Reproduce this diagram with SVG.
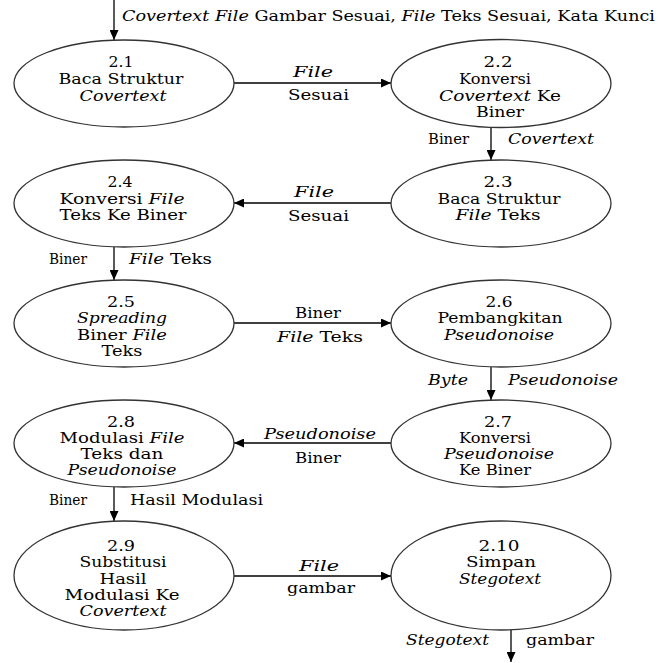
<svg xmlns="http://www.w3.org/2000/svg" width="662" height="663" viewBox="0 0 662 663">
<style>
ellipse{fill:#fff;stroke:#333;stroke-width:1.3}
line{stroke:#000;stroke-width:1.3}
</style>
<defs>
<marker id="ah" viewBox="0 0 10 10" refX="10" refY="5" markerWidth="10" markerHeight="9" markerUnits="userSpaceOnUse" orient="auto" preserveAspectRatio="none">
<path d="M0,0 L10,5 L0,10 z" fill="#000"/>
</marker>
</defs>
<g id="connectors" marker-end="url(#ah)">
<line x1="114" y1="0" x2="114" y2="40"/>
<line x1="234" y1="83" x2="391" y2="83"/>
<line x1="491" y1="127" x2="491" y2="160"/>
<line x1="391" y1="203" x2="234" y2="203"/>
<line x1="114" y1="247" x2="114" y2="280"/>
<line x1="234" y1="323" x2="391" y2="323"/>
<line x1="491" y1="367" x2="491" y2="400"/>
<line x1="391" y1="443" x2="234" y2="443"/>
<line x1="114" y1="487" x2="114" y2="521"/>
<line x1="234" y1="576" x2="391" y2="576"/>
<line x1="511" y1="630" x2="511" y2="662"/>
</g>
<g id="labels">
<text font-family="DejaVu Serif" font-size="14" x="122" y="21" textLength="533" lengthAdjust="spacingAndGlyphs"><tspan font-style="italic">Covertext File</tspan> Gambar Sesuai, <tspan font-style="italic">File</tspan> Teks Sesuai, Kata Kunci</text>
<text font-family="DejaVu Serif" font-size="14" font-style="italic" x="293" y="77" textLength="40" lengthAdjust="spacingAndGlyphs">File</text>
<text font-family="DejaVu Serif" font-size="14" x="288" y="100" textLength="61" lengthAdjust="spacingAndGlyphs">Sesuai</text>
<text font-family="DejaVu Serif" font-size="14" x="428" y="144" textLength="41" lengthAdjust="spacingAndGlyphs">Biner</text>
<text font-family="DejaVu Serif" font-size="14" font-style="italic" x="508" y="144" textLength="86" lengthAdjust="spacingAndGlyphs">Covertext</text>
<text font-family="DejaVu Serif" font-size="14" font-style="italic" x="294" y="197" textLength="40" lengthAdjust="spacingAndGlyphs">File</text>
<text font-family="DejaVu Serif" font-size="14" x="288" y="221" textLength="61" lengthAdjust="spacingAndGlyphs">Sesuai</text>
<text font-family="DejaVu Serif" font-size="14" x="49" y="264" textLength="38" lengthAdjust="spacingAndGlyphs">Biner</text>
<text font-family="DejaVu Serif" font-size="14" x="129" y="264" textLength="83" lengthAdjust="spacingAndGlyphs"><tspan font-style="italic">File</tspan> Teks</text>
<text font-family="DejaVu Serif" font-size="14" x="295" y="318" textLength="46" lengthAdjust="spacingAndGlyphs">Biner</text>
<text font-family="DejaVu Serif" font-size="14" x="277" y="342" textLength="86" lengthAdjust="spacingAndGlyphs"><tspan font-style="italic">File</tspan> Teks</text>
<text font-family="DejaVu Serif" font-size="14" font-style="italic" x="428" y="385" textLength="40" lengthAdjust="spacingAndGlyphs">Byte</text>
<text font-family="DejaVu Serif" font-size="14" font-style="italic" x="508" y="385" textLength="110" lengthAdjust="spacingAndGlyphs">Pseudonoise</text>
<text font-family="DejaVu Serif" font-size="14" font-style="italic" x="264" y="439" textLength="112" lengthAdjust="spacingAndGlyphs">Pseudonoise</text>
<text font-family="DejaVu Serif" font-size="14" x="295" y="463" textLength="46" lengthAdjust="spacingAndGlyphs">Biner</text>
<text font-family="DejaVu Serif" font-size="14" x="49" y="505" textLength="38" lengthAdjust="spacingAndGlyphs">Biner</text>
<text font-family="DejaVu Serif" font-size="14" x="130" y="505" textLength="133" lengthAdjust="spacingAndGlyphs">Hasil Modulasi</text>
<text font-family="DejaVu Serif" font-size="14" font-style="italic" x="299" y="571" textLength="40" lengthAdjust="spacingAndGlyphs">File</text>
<text font-family="DejaVu Serif" font-size="14" x="287" y="593" textLength="68" lengthAdjust="spacingAndGlyphs">gambar</text>
<text font-family="DejaVu Serif" font-size="14" font-style="italic" x="406" y="645" textLength="83" lengthAdjust="spacingAndGlyphs">Stegotext</text>
<text font-family="DejaVu Serif" font-size="14" x="526" y="645" textLength="68" lengthAdjust="spacingAndGlyphs">gambar</text>
</g>
<g id="n2_1">
<ellipse cx="124" cy="83.5" rx="110" ry="43.5"/>
<text font-family="DejaVu Serif" font-size="14" x="108.5" y="67" textLength="25" lengthAdjust="spacingAndGlyphs">2.1</text>
<text font-family="DejaVu Serif" font-size="14" x="58.5" y="84" textLength="125" lengthAdjust="spacingAndGlyphs">Baca Struktur</text>
<text font-family="DejaVu Serif" font-size="14" font-style="italic" x="79.5" y="101" textLength="87" lengthAdjust="spacingAndGlyphs">Covertext</text>
</g>
<g id="n2_2">
<ellipse cx="501" cy="83.5" rx="110" ry="44"/>
<text font-family="DejaVu Serif" font-size="14" x="483.5" y="67" textLength="29" lengthAdjust="spacingAndGlyphs">2.2</text>
<text font-family="DejaVu Serif" font-size="14" x="459" y="84" textLength="72" lengthAdjust="spacingAndGlyphs">Konversi</text>
<text font-family="DejaVu Serif" font-size="14" x="439" y="101" textLength="122" lengthAdjust="spacingAndGlyphs"><tspan font-style="italic">Covertext</tspan> Ke</text>
<text font-family="DejaVu Serif" font-size="14" x="476" y="117" textLength="48" lengthAdjust="spacingAndGlyphs">Biner</text>
</g>
<g id="n2_3">
<ellipse cx="501" cy="203.5" rx="110" ry="43.5"/>
<text font-family="DejaVu Serif" font-size="14" x="483.5" y="187" textLength="29" lengthAdjust="spacingAndGlyphs">2.3</text>
<text font-family="DejaVu Serif" font-size="14" x="437.5" y="204" textLength="123" lengthAdjust="spacingAndGlyphs">Baca Struktur</text>
<text font-family="DejaVu Serif" font-size="14" x="455.5" y="220" textLength="85" lengthAdjust="spacingAndGlyphs"><tspan font-style="italic">File</tspan> Teks</text>
</g>
<g id="n2_4">
<ellipse cx="124" cy="203.5" rx="110" ry="43.5"/>
<text font-family="DejaVu Serif" font-size="14" x="107.5" y="187" textLength="25" lengthAdjust="spacingAndGlyphs">2.4</text>
<text font-family="DejaVu Serif" font-size="14" x="59.5" y="204" textLength="125" lengthAdjust="spacingAndGlyphs">Konversi <tspan font-style="italic">File</tspan></text>
<text font-family="DejaVu Serif" font-size="14" x="59.5" y="220" textLength="127" lengthAdjust="spacingAndGlyphs">Teks Ke Biner</text>
</g>
<g id="n2_5">
<ellipse cx="124" cy="323.5" rx="110" ry="43.5"/>
<text font-family="DejaVu Serif" font-size="14" x="107" y="307" textLength="28" lengthAdjust="spacingAndGlyphs">2.5</text>
<text font-family="DejaVu Serif" font-size="14" font-style="italic" x="77" y="323" textLength="90" lengthAdjust="spacingAndGlyphs">Spreading</text>
<text font-family="DejaVu Serif" font-size="14" x="77" y="340" textLength="90" lengthAdjust="spacingAndGlyphs">Biner <tspan font-style="italic">File</tspan></text>
<text font-family="DejaVu Serif" font-size="14" x="101.5" y="356" textLength="41" lengthAdjust="spacingAndGlyphs">Teks</text>
</g>
<g id="n2_6">
<ellipse cx="501" cy="323.5" rx="110" ry="43.5"/>
<text font-family="DejaVu Serif" font-size="14" x="485.5" y="307" textLength="27" lengthAdjust="spacingAndGlyphs">2.6</text>
<text font-family="DejaVu Serif" font-size="14" x="437.5" y="323" textLength="125" lengthAdjust="spacingAndGlyphs">Pembangkitan</text>
<text font-family="DejaVu Serif" font-size="14" font-style="italic" x="444" y="340" textLength="110" lengthAdjust="spacingAndGlyphs">Pseudonoise</text>
</g>
<g id="n2_7">
<ellipse cx="501" cy="443.5" rx="110" ry="43.5"/>
<text font-family="DejaVu Serif" font-size="14" x="484" y="427" textLength="28" lengthAdjust="spacingAndGlyphs">2.7</text>
<text font-family="DejaVu Serif" font-size="14" x="459" y="443" textLength="72" lengthAdjust="spacingAndGlyphs">Konversi</text>
<text font-family="DejaVu Serif" font-size="14" font-style="italic" x="444" y="459" textLength="110" lengthAdjust="spacingAndGlyphs">Pseudonoise</text>
<text font-family="DejaVu Serif" font-size="14" x="459" y="475" textLength="72" lengthAdjust="spacingAndGlyphs">Ke Biner</text>
</g>
<g id="n2_8">
<ellipse cx="124" cy="443.5" rx="110" ry="43.5"/>
<text font-family="DejaVu Serif" font-size="14" x="107" y="427" textLength="28" lengthAdjust="spacingAndGlyphs">2.8</text>
<text font-family="DejaVu Serif" font-size="14" x="59.5" y="443" textLength="125" lengthAdjust="spacingAndGlyphs">Modulasi <tspan font-style="italic">File</tspan></text>
<text font-family="DejaVu Serif" font-size="14" x="80.5" y="459" textLength="83" lengthAdjust="spacingAndGlyphs">Teks dan</text>
<text font-family="DejaVu Serif" font-size="14" font-style="italic" x="67.5" y="475" textLength="109" lengthAdjust="spacingAndGlyphs">Pseudonoise</text>
</g>
<g id="n2_9">
<ellipse cx="124" cy="575.5" rx="110" ry="54.5"/>
<text font-family="DejaVu Serif" font-size="14" x="107" y="551" textLength="28" lengthAdjust="spacingAndGlyphs">2.9</text>
<text font-family="DejaVu Serif" font-size="14" x="79.5" y="567" textLength="87" lengthAdjust="spacingAndGlyphs">Substitusi</text>
<text font-family="DejaVu Serif" font-size="14" x="99.5" y="584" textLength="47" lengthAdjust="spacingAndGlyphs">Hasil</text>
<text font-family="DejaVu Serif" font-size="14" x="64.5" y="600" textLength="115" lengthAdjust="spacingAndGlyphs">Modulasi Ke</text>
<text font-family="DejaVu Serif" font-size="14" font-style="italic" x="79.5" y="616" textLength="87" lengthAdjust="spacingAndGlyphs">Covertext</text>
</g>
<g id="n2_10">
<ellipse cx="501" cy="575.5" rx="110" ry="54.5"/>
<text font-family="DejaVu Serif" font-size="14" x="478.5" y="551" textLength="41" lengthAdjust="spacingAndGlyphs">2.10</text>
<text font-family="DejaVu Serif" font-size="14" x="466" y="567" textLength="70" lengthAdjust="spacingAndGlyphs">Simpan</text>
<text font-family="DejaVu Serif" font-size="14" font-style="italic" x="459" y="584" textLength="82" lengthAdjust="spacingAndGlyphs">Stegotext</text>
</g>
</svg>
